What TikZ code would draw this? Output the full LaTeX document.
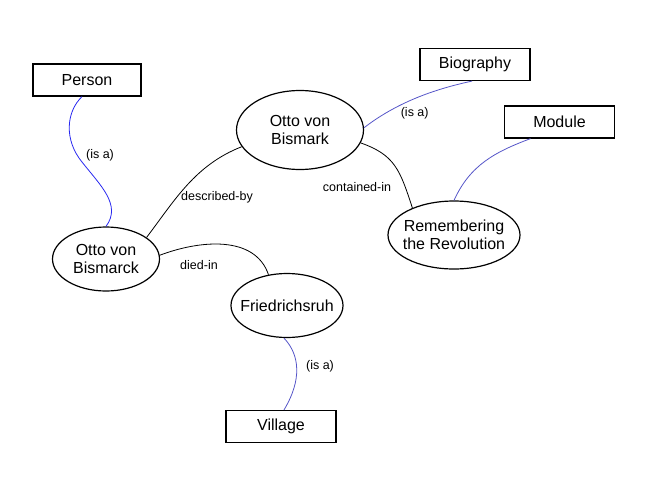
\documentclass[tikz,border=0pt]{standalone}
\usepackage{fontspec}
\setmainfont{Liberation Sans}
\usetikzlibrary{shapes.geometric}
\definecolor{linkblue}{RGB}{40,40,240}
\definecolor{softblue}{RGB}{85,85,200}
\tikzset{
  cls/.style={draw, line width=1.2pt, rectangle, minimum width=110pt, minimum height=32pt, inner sep=0pt, font=\fontsize{16}{18.5}\selectfont},
  ell/.style={draw, line width=1.2pt, ellipse, inner sep=0pt},
  ltxt/.style={align=center, font=\fontsize{16}{18.5}\selectfont, inner sep=0pt},
  rel/.style={line width=0.8pt, black},
  isa/.style={line width=0.8pt, softblue},
  lab/.style={font=\fontsize{12.5}{14}\selectfont, inner sep=0pt}
}
\begin{document}
\begin{tikzpicture}[x=1pt,y=-1pt]
\useasboundingbox (0,0) rectangle (646,480);
% classes
\node[cls, minimum width=108pt] (person) at (87,80) {Person};
\node[cls] (bio) at (475,64.5) {Biography};
\node[cls] (mod) at (559.5,122) {Module};
\node[cls] (village) at (281,426.5) {Village};
% instances
\node[ell, minimum width=127pt, minimum height=79pt, label={[ltxt]center:Otto von\\Bismark}] (ottoT) at (300,130) {};
\node[ell, minimum width=132pt, minimum height=68pt, label={[ltxt]center:Remembering\\the Revolution}] (rem) at (454,235) {};
\node[ell, minimum width=107pt, minimum height=64pt, label={[ltxt]center:Otto von\\Bismarck}] (ottoL) at (106,259) {};
\node[ell, minimum width=112pt, minimum height=64pt, label={[ltxt]center:Friedrichsruh}] (fried) at (287,305.5) {};
% connectors
\draw[isa, linkblue] ([xshift=-5pt]person.south) .. controls (66,112) and (64,140) .. (82,162) .. controls (100,185) and (122,205) .. (ottoL.north);
\draw[rel] (ottoL.28) .. controls (175,200) and (195,165) .. (ottoT.196);
\draw[rel] (ottoT.-12) .. controls (395,155) and (400,170) .. (rem.147);
\draw[isa] (ottoT.2) .. controls (400,100) and (440,88) .. ([xshift=-3pt]bio.south);
\draw[isa] ([xshift=-29pt]mod.south) .. controls (495,152) and (470,165) .. (rem.north);
\draw[rel] (ottoL.4) .. controls (200,240) and (255,235) .. (fried.121);
\draw[isa] ([xshift=-3pt]fried.south) .. controls (300,355) and (302,380) .. ([xshift=3pt]village.north);
% labels
\node[lab] (l1) at (100,155.5) {(is a)};
\node[lab] (l2) at (217,197) {described-by};
\node[lab] (l3) at (357,186.7) {contained-in};
\node[lab] (l4) at (414.7,113.3) {(is a)};
\node[lab] (l5) at (199,265) {died-in};
\node[lab] (l6) at (320,366) {(is a)};
\end{tikzpicture}
\end{document}
